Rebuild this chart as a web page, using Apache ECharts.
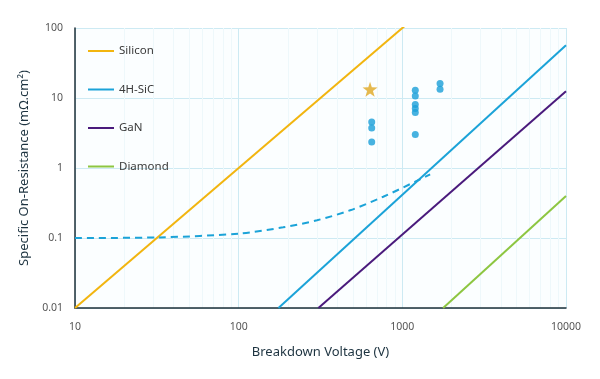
<!DOCTYPE html>
<html>
<head>
<meta charset="utf-8">
<script src="https://cdn.jsdelivr.net/npm/echarts@6/dist/echarts.min.js"></script>
<style>
html,body{margin:0;padding:0;background:#fff;}
#chart{width:600px;height:379px;}
</style>
</head>
<body>
<div id="chart"></div>
<script>
// Limit lines: [breakdown voltage (V), specific on-resistance (mOhm.cm2)]
var siliconLine = [[10, 0.01], [1100, 121]];
var sic4hLine = [[175, 0.01], [10000, 56.6]];
var ganLine = [[307, 0.01], [10000, 12.5]];
var diamondLine = [[1775, 0.01], [10000, 0.398]];
// Dashed 4H-SiC practical curve
var sicDashed = [[10, 0.1], [33, 0.102], [102, 0.116], [187, 0.142], [301, 0.179], [480, 0.249], [764, 0.388], [1230, 0.657], [1479, 0.813]];
// Measured devices
var devices = [[650, 4.54], [650, 3.73], [650, 2.35],
  [1200, 12.9], [1200, 10.7], [1200, 8.05], [1200, 7.06], [1200, 6.19], [1200, 3.0],
  [1700, 16.1], [1700, 13.3]];
var star = [[635, 13.3]];
var seriesNames = ['Silicon', '4H-SiC', 'GaN', 'Diamond'];
var xTicks = [10, 100, 1000, 10000];
var yTicks = [0.01, 0.1, 1, 10, 100];

var colors = {Silicon: '#f2b50f', '4H-SiC': '#1ba3d8', GaN: '#4a1a7c', Diamond: '#8dc641'};
var fontFam = '"Noto Sans", "Open Sans", sans-serif';

var chart = echarts.init(document.getElementById('chart'), null, {renderer: 'canvas'});
function lineSeries(name, data) {
  return {name: name, type: 'line', data: data, showSymbol: false, symbol: 'none',
    lineStyle: {color: colors[name], width: 2}, itemStyle: {color: colors[name]},
    clip: true, silent: true, animation: false, z: 3};
}
var option = {
  animation: false,
  textStyle: {fontFamily: fontFam},
  grid: {left: 75, right: 34, top: 28, bottom: 71, show: true, backgroundColor: '#fbfeff', borderWidth: 0},
  legend: {
    data: seriesNames, orient: 'vertical', left: 83, top: 40, itemGap: 26.5,
    icon: 'rect', itemWidth: 26, itemHeight: 2,
    textStyle: {fontSize: 11.5, color: '#3a3a3a', fontFamily: fontFam}
  },
  xAxis: {
    type: 'log', logBase: 10, min: 10, max: 10000,
    name: 'Breakdown Voltage (V)', nameLocation: 'middle', nameGap: 38,
    nameTextStyle: {fontSize: 13, color: '#1d3340', fontFamily: fontFam},
    axisLine: {show: true, lineStyle: {color: '#1d2f38', width: 1.5}},
    axisTick: {show: false},
    axisLabel: {fontSize: 10.5, color: '#555', margin: 14,
      formatter: function (v) { return xTicks.indexOf(v) >= 0 ? String(v) : ''; }},
    splitLine: {show: true, lineStyle: {color: '#cdeaf3', width: 1}},
    minorTick: {show: false, splitNumber: 9},
    minorSplitLine: {show: true, lineStyle: {color: '#eef8fb', width: 1}}
  },
  yAxis: {
    type: 'log', logBase: 10, min: 0.01, max: 100,
    name: 'Specific On-Resistance (mΩ.cm²)', nameLocation: 'middle', nameGap: 44,
    nameTextStyle: {fontSize: 13, color: '#1d3340', fontFamily: fontFam},
    axisLine: {show: true, lineStyle: {color: '#1d2f38', width: 1.5}},
    axisTick: {show: false},
    axisLabel: {fontSize: 10.5, color: '#555', margin: 12,
      formatter: function (v) {
        var r = Math.round(v * 100) / 100;
        return yTicks.indexOf(r) >= 0 ? String(r) : '';
      }},
    splitLine: {show: true, lineStyle: {color: '#cdeaf3', width: 1}},
    minorSplitLine: {show: false}
  },
  series: [
    lineSeries('Silicon', siliconLine),
    lineSeries('4H-SiC', sic4hLine),
    lineSeries('GaN', ganLine),
    lineSeries('Diamond', diamondLine),
    {name: 'SiC practical', type: 'line', data: sicDashed, smooth: 0.3, showSymbol: false, symbol: 'none',
      lineStyle: {color: '#1ba3d8', width: 2, type: [7, 5]}, silent: true, z: 3},
    {name: 'Devices', type: 'scatter', data: devices, symbol: 'circle', symbolSize: 7,
      itemStyle: {color: '#1a9fd8'}, silent: true, z: 4},
    {name: 'Star', type: 'scatter', data: star, symbol: 'path://M50,0 L61.8,36.2 L100,38.2 L69.1,61.8 L80.9,100 L50,78 L19.1,100 L30.9,61.8 L0,38.2 L38.2,36.2 Z',
      symbolSize: 15, itemStyle: {color: '#e0a822'}, silent: true, z: 4}
  ]
};
chart.setOption(option);
</script>
</body>
</html>
